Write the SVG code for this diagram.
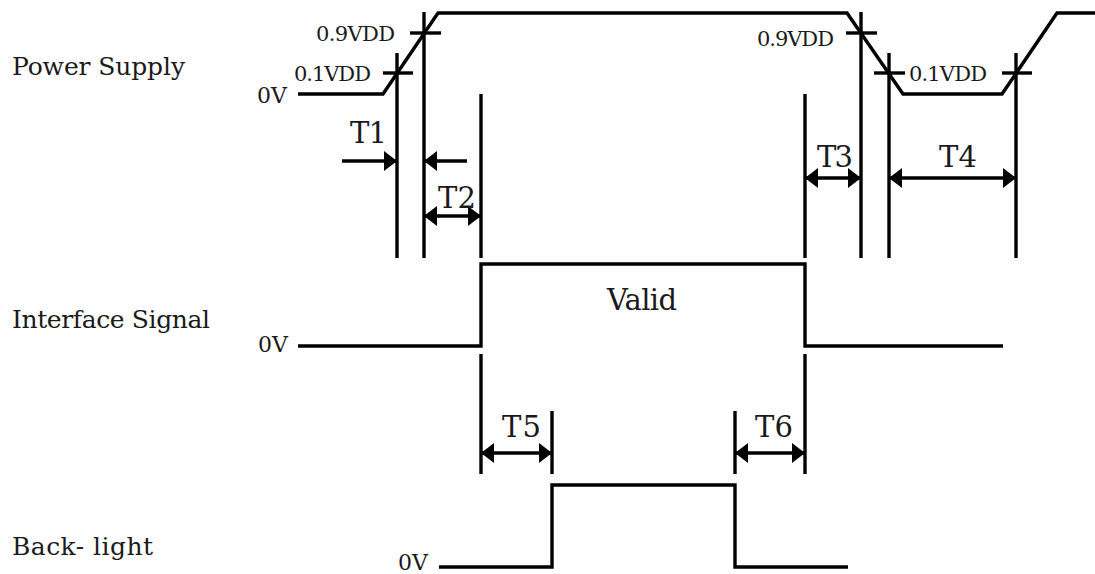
<svg xmlns="http://www.w3.org/2000/svg" width="1095" height="574" viewBox="0 0 1095 574">
<style>
.w{fill:none;stroke:#000;stroke-width:3.4;stroke-linejoin:miter;stroke-linecap:butt}
.t{font-family:"DejaVu Serif","Liberation Serif",serif;fill:#1a1a1a}
.lbl{font-size:25px}
.v{font-size:21px}
.z{font-size:22px}
.tt{font-size:29px}
.a{fill:none;stroke:#000;stroke-width:3.4;marker-end:url(#ah)}
.d{fill:none;stroke:#000;stroke-width:3.4;marker-start:url(#ah);marker-end:url(#ah)}
</style>
<defs>
<marker id="ah" viewBox="0 0 13 20" refX="12" refY="10" markerWidth="13" markerHeight="20" markerUnits="userSpaceOnUse" orient="auto-start-reverse">
<path d="M0,0 L13,10 L0,20 Z" fill="#000"/>
</marker>
</defs>
<rect width="1095" height="574" fill="#fff"/>

<g id="labels">
<text class="t lbl" x="12" y="75" textLength="173">Power Supply</text>
<text class="t lbl" x="12" y="328" textLength="198">Interface Signal</text>
<text class="t lbl" x="12" y="555" textLength="141">Back- light</text>
<text class="t z" x="257" y="103" textLength="30">0V</text>
<text class="t z" x="258" y="352" textLength="30">0V</text>
<text class="t z" x="398" y="570" textLength="30">0V</text>
<text class="t v" x="316" y="41" textLength="79">0.9VDD</text>
<text class="t v" x="294" y="81" textLength="77">0.1VDD</text>
<text class="t v" x="757" y="46" textLength="77">0.9VDD</text>
<text class="t v" x="909" y="81" textLength="78">0.1VDD</text>
<text class="t" x="607" y="310" font-size="29" textLength="70">Valid</text>
</g>

<g id="power-supply">
<polyline class="w" points="298,94 383,94 438,13 847,13 903,94 1002,94 1057,13 1095,13"/>
<line class="w" x1="410" y1="33" x2="441" y2="33"/>
<line class="w" x1="383" y1="73" x2="413" y2="73"/>
<line class="w" x1="846" y1="33" x2="877" y2="33"/>
<line class="w" x1="874" y1="73" x2="905" y2="73"/>
<line class="w" x1="1002" y1="73" x2="1032" y2="73"/>
</g>

<g id="interface-signal">
<polyline class="w" points="298,346 481,346 481,264 805,264 805,346 1003,346"/>
</g>

<g id="backlight">
<polyline class="w" points="439,567 552,567 552,485 735,485 735,567 848,567"/>
</g>

<g id="guides">
<line class="w" x1="397" y1="53" x2="397" y2="258"/>
<line class="w" x1="424" y1="12" x2="424" y2="258"/>
<line class="w" x1="481" y1="94" x2="481" y2="258"/>
<line class="w" x1="805" y1="94" x2="805" y2="258"/>
<line class="w" x1="861" y1="12" x2="861" y2="258"/>
<line class="w" x1="889" y1="53" x2="889" y2="258"/>
<line class="w" x1="1016" y1="53" x2="1016" y2="258"/>
<line class="w" x1="481" y1="354" x2="481" y2="474"/>
<line class="w" x1="552" y1="411" x2="552" y2="474"/>
<line class="w" x1="735" y1="411" x2="735" y2="474"/>
<line class="w" x1="805" y1="354" x2="805" y2="474"/>
</g>

<g id="connectors">
<line class="a" x1="342" y1="161" x2="396" y2="161"/>
<line class="a" x1="467" y1="161" x2="425" y2="161"/>
<line class="d" x1="425" y1="216" x2="480" y2="216"/>
<line class="d" x1="806" y1="178" x2="860" y2="178"/>
<line class="d" x1="890" y1="178" x2="1015" y2="178"/>
<line class="d" x1="482" y1="453" x2="551" y2="453"/>
<line class="d" x1="736" y1="453" x2="804" y2="453"/>
</g>

<g id="time-labels">
<text class="t tt" x="350" y="143" textLength="37">T1</text>
<text class="t tt" x="438" y="208" textLength="38">T2</text>
<text class="t tt" x="817" y="167" textLength="36">T3</text>
<text class="t tt" x="939" y="167" textLength="38">T4</text>
<text class="t tt" x="502" y="437" textLength="39">T5</text>
<text class="t tt" x="755" y="437" textLength="38">T6</text>
</g>
</svg>
